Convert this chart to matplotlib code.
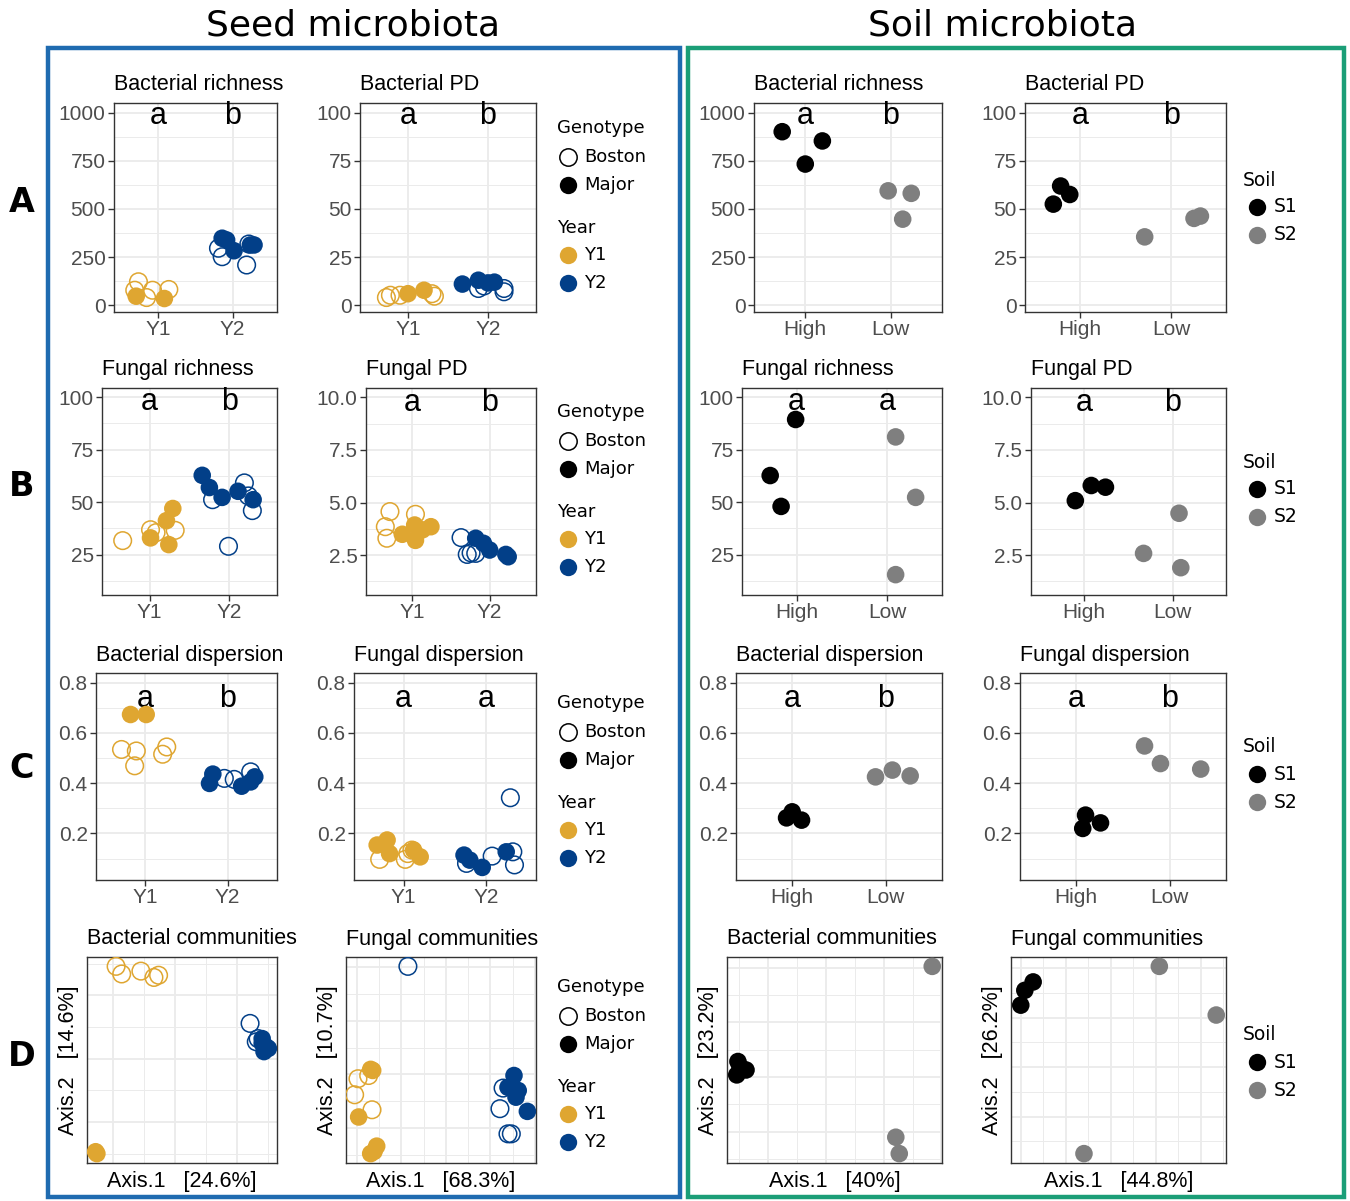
import matplotlib
matplotlib.use('Agg')
import numpy as np
import matplotlib.pyplot as plt
from matplotlib.ticker import MultipleLocator, NullLocator
from matplotlib.patches import Rectangle
from matplotlib.lines import Line2D

# ---------------- data ----------------
# seed panels: x = category position (1 = Y1, 2 = Y2) incl. jitter
sbr_x = [0.73, 0.68, 0.92, 1.14, 0.84, 0.70, 1.08, 1.81, 1.86, 2.19, 2.22, 1.86, 1.92, 2.02, 2.24, 2.29]
sbr_y = [122, 78, 78, 82, 40, 47, 35, 296, 252, 209, 318, 348, 339, 283, 313, 313]
sbr_year = ['Y1'] * 7 + ['Y2'] * 9
sbr_geno = list('BBBBBMM') + list('BBBBMMMMM')

sbp_x = [0.73, 0.78, 0.90, 1.30, 1.33, 1.00, 1.20, 1.88, 2.20, 2.20, 1.95, 1.68, 1.88, 2.00, 2.08]
sbp_y = [4.0, 5.2, 5.2, 6.0, 4.7, 6.0, 7.8, 8.7, 8.7, 7.0, 10.0, 11.0, 13.0, 11.6, 12.0]
sbp_year = ['Y1'] * 7 + ['Y2'] * 8
sbp_geno = list('BBBBBMM') + list('BBBBMMMM')

sfr_x = [0.66, 1.01, 1.08, 1.32, 1.01, 1.21, 1.29, 1.24, 1.79, 2.19, 2.29, 1.99, 2.24, 1.66, 1.75, 1.91, 2.11, 2.30]
sfr_y = [31.7, 36.9, 35.5, 36.6, 33.0, 41.2, 47.0, 29.8, 51.2, 59.2, 46.0, 29.0, 53.0, 62.8, 57.0, 52.3, 55.2, 51.2]
sfr_year = ['Y1'] * 8 + ['Y2'] * 10
sfr_geno = list('BBBBMMMM') + list('BBBBBMMMMM')

sfp_x = [0.71, 0.65, 0.67, 1.04, 0.87, 1.03, 1.04, 1.24, 1.13, 1.63, 1.71, 1.82, 1.76, 1.82, 1.92, 2.00, 2.21, 2.24]
sfp_y = [4.57, 3.85, 3.30, 4.44, 3.49, 3.93, 3.20, 3.85, 3.70, 3.33, 2.53, 2.58, 2.60, 3.30, 3.06, 2.74, 2.53, 2.42]
sfp_year = ['Y1'] * 9 + ['Y2'] * 9
sfp_geno = list('BBBBMMMMM') + list('BBBBMMMMM')

sbd_x = [0.82, 1.01, 0.71, 0.89, 0.87, 1.21, 1.26, 1.96, 2.08, 2.28, 1.78, 1.82, 2.17, 2.28, 2.33]
sbd_y = [0.673, 0.673, 0.534, 0.528, 0.469, 0.515, 0.544, 0.419, 0.415, 0.445, 0.399, 0.436, 0.388, 0.405, 0.425]
sbd_year = ['Y1'] * 7 + ['Y2'] * 8
sbd_geno = list('MMBBBBB') + list('BBBMMMMM')

sfd_x = [0.68, 0.80, 0.83, 0.71, 1.02, 1.05, 1.10, 1.12, 1.20, 1.73, 1.80, 1.95, 1.76, 2.24, 2.07, 2.32, 2.34, 2.29]
sfd_y = [0.154, 0.174, 0.120, 0.097, 0.097, 0.120, 0.134, 0.134, 0.107, 0.114, 0.094, 0.065, 0.081, 0.127, 0.110, 0.127, 0.075, 0.342]
sfd_year = ['Y1'] * 9 + ['Y2'] * 9
sfd_geno = list('MMMBBBBMM') + list('MMMBMBBBB')

# seed PCoA
sbc_x = [-0.189, -0.171, -0.109, -0.067, -0.052, -0.251, -0.255, 0.243, 0.269, 0.263, 0.282, 0.295, 0.288, 0.302, 0.282]
sbc_y = [0.291, 0.267, 0.276, 0.256, 0.263, -0.300, -0.294, 0.111, 0.063, 0.053, 0.063, 0.037, 0.022, 0.032, 0.048]
sbc_year = ['Y1'] * 7 + ['Y2'] * 8
sbc_geno = list('BBBBBMM') + list('BBBMMMMM')

sfc_x = [-0.337, -0.328, -0.391, -0.310, -0.337, -0.322, -0.394, -0.409, -0.346, -0.331,
         0.306, 0.279, 0.325, 0.315, 0.366, 0.257, 0.243, 0.279, 0.294, -0.170]
sfc_y = [0.019, 0.015, -0.159, -0.268, -0.296, -0.288, -0.016, -0.076, -0.004, -0.132,
         -0.004, -0.048, -0.060, -0.085, -0.138, -0.051, -0.128, -0.222, -0.222, 0.404]
sfc_year = ['Y1'] * 10 + ['Y2'] * 10
sfc_geno = list('MMMMMMBBBB') + list('MMMMMBBBBB')

# soil panels: x = 1 High, 2 Low
soil3 = ['S1'] * 3 + ['S2'] * 3
lbr_x = [0.73, 1.00, 1.20, 1.97, 2.24, 2.14]
lbr_y = [901, 733, 853, 594, 581, 447]
lbp_x = [0.71, 0.79, 0.89, 1.71, 2.25, 2.32]
lbp_y = [52.5, 61.9, 57.5, 35.5, 45.1, 46.3]
lfr_x = [0.99, 0.71, 0.83, 2.09, 2.31, 2.09]
lfr_y = [89.4, 62.7, 48.0, 81.1, 52.3, 15.5]
lfp_x = [0.90, 1.08, 1.24, 2.07, 1.67, 2.09]
lfp_y = [5.09, 5.81, 5.73, 4.49, 2.58, 1.90]
lbd_x = [0.94, 1.00, 1.10, 1.89, 2.07, 2.26]
lbd_y = [0.262, 0.286, 0.253, 0.425, 0.452, 0.429]
lfd_x = [1.07, 1.10, 1.26, 1.73, 1.90, 2.33]
lfd_y = [0.220, 0.273, 0.242, 0.548, 0.478, 0.456]

lbc_x = [-0.304, -0.308, -0.276, -0.297, 0.368, 0.242, 0.254]
lbc_y = [0.057, 0.008, 0.026, 0.038, 0.405, -0.220, -0.280]
lbc_soil = ['S1'] * 4 + ['S2'] * 3
lfc_x = [-0.345, -0.382, -0.400, 0.216, 0.469, -0.119]
lfc_y = [0.345, 0.311, 0.251, 0.408, 0.211, -0.350]

seed_cats = ['Y1', 'Y2']
soil_cats = ['High', 'Low']

YEAR_COL = {'Y1': '#DFA631', 'Y2': '#023F88'}
SOIL_COL = {'S1': '#000000', 'S2': '#7F7F7F'}
BLUE = '#1F6BB0'
GREEN = '#1B9E77'

PF = ['Liberation Sans', 'DejaVu Sans']
LF = 'DejaVu Sans'
S = 160

W, H = 1350, 1201
fig = plt.figure(figsize=(13.5, 12.01), dpi=100)

# overlay in pixel coordinates for frames, titles and legends
ov = fig.add_axes([0, 0, 1, 1])
ov.set_xlim(0, W)
ov.set_ylim(H, 0)
ov.axis('off')


def box(l, t, r, b):
    return fig.add_axes([l / W, 1 - b / H, (r - l) / W, (b - t) / H])


def style(ax):
    ax.set_facecolor('white')
    for s in ax.spines.values():
        s.set_color('#333333')
        s.set_linewidth(1.0)
    ax.grid(which='major', color='#EBEBEB', lw=1.3)
    ax.grid(which='minor', color='#EBEBEB', lw=0.7)
    ax.set_axisbelow(True)
    ax.tick_params(which='major', length=4, width=1, color='#333333',
                   labelsize=15, labelcolor='#4D4D4D', pad=2)
    ax.tick_params(which='minor', length=0)
    for lab in ax.get_xticklabels() + ax.get_yticklabels():
        lab.set_family(PF)


def strip(ax, title, cats, ticks, labels, ylim, letters, yl):
    ax.set_xlim(0.4, 2.6)
    ax.set_xticks([1, 2], cats)
    ax.xaxis.set_minor_locator(NullLocator())
    ax.set_yticks(ticks, labels)
    ax.yaxis.set_minor_locator(MultipleLocator((ticks[1] - ticks[0]) / 2))
    ax.set_ylim(*ylim)
    style(ax)
    ax.set_title(title, loc='left', fontsize=15.5, family=PF, pad=9)
    for i, l in enumerate(letters):
        ax.text(i + 1, yl, l, ha='center', va='center', fontsize=22, family=PF)


def pcoa(ax, title, xs, ys, xlab, ylab):
    xs = np.asarray(xs); ys = np.asarray(ys)
    rx = xs.max() - xs.min(); ry = ys.max() - ys.min()
    ax.set_xlim(xs.min() - 0.05 * rx, xs.max() + 0.05 * rx)
    ax.set_ylim(ys.min() - 0.05 * ry, ys.max() + 0.05 * ry)
    ax.xaxis.set_major_locator(MultipleLocator(0.2))
    ax.xaxis.set_minor_locator(MultipleLocator(0.1))
    ax.yaxis.set_major_locator(MultipleLocator(0.2))
    ax.yaxis.set_minor_locator(MultipleLocator(0.1))
    style(ax)
    ax.tick_params(which='both', length=0, labelbottom=False, labelleft=False)
    ax.set_title(title, loc='left', fontsize=15.5, family=PF, pad=9)
    ax.set_xlabel(xlab, fontsize=15.5, family=PF, labelpad=6)
    ax.set_ylabel(ylab, fontsize=15.5, family=PF, labelpad=6)


def seed_pts(ax, xs, ys, years, genos):
    xs = np.asarray(xs); ys = np.asarray(ys)
    cols = np.array([YEAR_COL[y] for y in years])
    g = np.array(genos)
    op = g == 'B'
    ax.scatter(xs[op], ys[op], s=S, facecolors='none', edgecolors=cols[op], linewidths=1.1, zorder=3)
    ax.scatter(xs[~op], ys[~op], s=S, c=cols[~op], linewidths=0, zorder=4)


def soil_pts(ax, xs, ys, soils):
    ax.scatter(xs, ys, s=S, c=[SOIL_COL[s] for s in soils], linewidths=0, zorder=4)


tA = ([0, 250, 500, 750, 1000], ['0', '250', '500', '750', '1000'])
tA2 = ([0, 25, 50, 75, 100], ['0', '25', '50', '75', '100'])
tB = ([25, 50, 75, 100], ['25', '50', '75', '100'])
tB2 = ([2.5, 5.0, 7.5, 10.0], ['2.5', '5.0', '7.5', '10.0'])
tC = ([0.2, 0.4, 0.6, 0.8], ['0.2', '0.4', '0.6', '0.8'])
limA, limA2 = (-35, 1050), (-3.5, 105)
limB, limB2 = (5.8, 104.4), (0.6, 10.45)
limC = (0.015, 0.838)

# ---------------- seed column ----------------
ax = box(114, 103, 277, 312); strip(ax, 'Bacterial richness', seed_cats, *tA, limA, 'ab', 985)
seed_pts(ax, sbr_x, sbr_y, sbr_year, sbr_geno)
ax = box(360, 103, 536, 312); strip(ax, 'Bacterial PD', seed_cats, *tA2, limA2, 'ab', 98.5)
seed_pts(ax, sbp_x, sbp_y, sbp_year, sbp_geno)
ax = box(102, 388, 277, 595); strip(ax, 'Fungal richness', seed_cats, *tB, limB, 'ab', 97.5)
seed_pts(ax, sfr_x, sfr_y, sfr_year, sfr_geno)
ax = box(366, 388, 536, 595); strip(ax, 'Fungal PD', seed_cats, *tB2, limB2, 'ab', 9.75)
seed_pts(ax, sfp_x, sfp_y, sfp_year, sfp_geno)
ax = box(96, 673, 277, 880); strip(ax, 'Bacterial dispersion', seed_cats, *tC, limC, 'ab', 0.733)
seed_pts(ax, sbd_x, sbd_y, sbd_year, sbd_geno)
ax = box(354, 673, 536, 880); strip(ax, 'Fungal dispersion', seed_cats, *tC, limC, 'aa', 0.733)
seed_pts(ax, sfd_x, sfd_y, sfd_year, sfd_geno)
ax = box(87, 957, 277, 1163)
pcoa(ax, 'Bacterial communities', sbc_x, sbc_y, 'Axis.1   [24.6%]', 'Axis.2   [14.6%]')
seed_pts(ax, sbc_x, sbc_y, sbc_year, sbc_geno)
ax = box(346, 957, 536, 1163)
pcoa(ax, 'Fungal communities', sfc_x, sfc_y, 'Axis.1   [68.3%]', 'Axis.2   [10.7%]')
seed_pts(ax, sfc_x, sfc_y, sfc_year, sfc_geno)

# ---------------- soil column ----------------
ax = box(754, 103, 942, 312); strip(ax, 'Bacterial richness', soil_cats, *tA, limA, 'ab', 985)
soil_pts(ax, lbr_x, lbr_y, soil3)
ax = box(1025, 103, 1226, 312); strip(ax, 'Bacterial PD', soil_cats, *tA2, limA2, 'ab', 98.5)
soil_pts(ax, lbp_x, lbp_y, soil3)
ax = box(742, 388, 942, 595); strip(ax, 'Fungal richness', soil_cats, *tB, limB, 'aa', 97.5)
soil_pts(ax, lfr_x, lfr_y, soil3)
ax = box(1031, 388, 1226, 595); strip(ax, 'Fungal PD', soil_cats, *tB2, limB2, 'ab', 9.75)
soil_pts(ax, lfp_x, lfp_y, soil3)
ax = box(736, 673, 942, 880); strip(ax, 'Bacterial dispersion', soil_cats, *tC, limC, 'ab', 0.733)
soil_pts(ax, lbd_x, lbd_y, soil3)
ax = box(1020, 673, 1226, 880); strip(ax, 'Fungal dispersion', soil_cats, *tC, limC, 'ab', 0.733)
soil_pts(ax, lfd_x, lfd_y, soil3)
ax = box(727, 957, 942, 1163)
pcoa(ax, 'Bacterial communities', lbc_x, lbc_y, 'Axis.1   [40%]', 'Axis.2   [23.2%]')
soil_pts(ax, lbc_x, lbc_y, lbc_soil)
ax = box(1011, 957, 1226, 1163)
pcoa(ax, 'Fungal communities', lfc_x, lfc_y, 'Axis.1   [44.8%]', 'Axis.2   [26.2%]')
soil_pts(ax, lfc_x, lfc_y, soil3)

# ---------------- frames, headers, legends ----------------
ov.add_patch(Rectangle((48, 48), 632, 1149, fill=False, ec=BLUE, lw=3.2))
ov.add_patch(Rectangle((688, 48), 656, 1149, fill=False, ec=GREEN, lw=3.2))
ov.text(353, 26, 'Seed microbiota', ha='center', va='center', fontsize=26, family=LF)
ov.text(1003, 26, 'Soil microbiota', ha='center', va='center', fontsize=26, family=LF)
for lab, y in zip('ABCD', [203, 487, 768, 1057]):
    ov.text(22, y, lab, ha='center', va='center', fontsize=24, fontweight='bold', family=LF)


def mark(x, y, fc, ec):
    ov.add_line(Line2D([x], [y], marker='o', ms=12.5, mfc=fc, mec=ec, mew=1.1 if fc == 'none' else 0))


LS = 13
for y0 in [128, 412, 703, 987]:
    ov.text(557, y0, 'Genotype', va='center', fontsize=LS, family=LF)
    mark(568, y0 + 29, 'none', 'black'); ov.text(584, y0 + 29, 'Boston', va='center', fontsize=LS, family=LF)
    mark(568, y0 + 57, 'black', 'black'); ov.text(584, y0 + 57, 'Major', va='center', fontsize=LS, family=LF)
    ov.text(557, y0 + 100, 'Year', va='center', fontsize=LS, family=LF)
    mark(568, y0 + 127, YEAR_COL['Y1'], YEAR_COL['Y1']); ov.text(584, y0 + 127, 'Y1', va='center', fontsize=LS, family=LF)
    mark(568, y0 + 155, YEAR_COL['Y2'], YEAR_COL['Y2']); ov.text(584, y0 + 155, 'Y2', va='center', fontsize=LS, family=LF)

for y0 in [180, 462, 747, 1035]:
    ov.text(1243, y0, 'Soil', va='center', fontsize=13.5, family=LF)
    mark(1257, y0 + 27, 'black', 'black'); ov.text(1274, y0 + 27, 'S1', va='center', fontsize=13.5, family=LF)
    mark(1257, y0 + 55, SOIL_COL['S2'], SOIL_COL['S2']); ov.text(1274, y0 + 55, 'S2', va='center', fontsize=13.5, family=LF)

fig.savefig('out.png', dpi=100)
